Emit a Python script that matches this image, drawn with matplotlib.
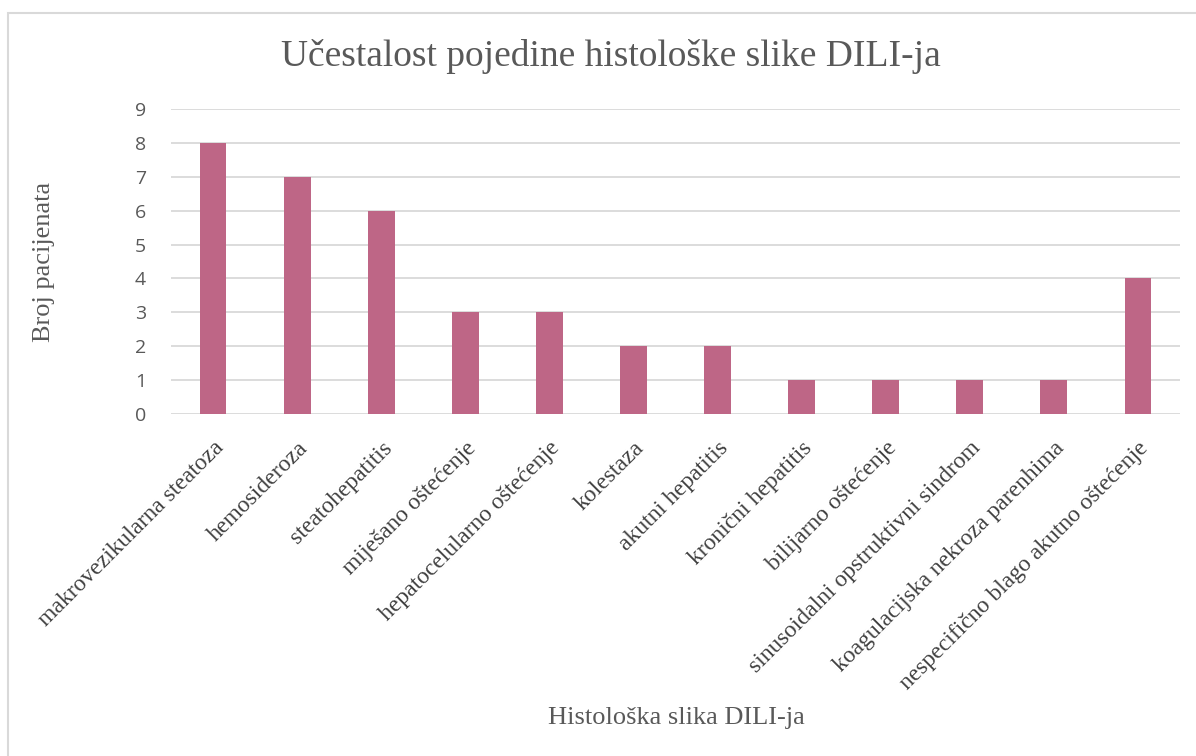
import matplotlib
matplotlib.use("Agg")
from matplotlib import pyplot as plt
from matplotlib.patches import Rectangle
import numpy as np

# data
categories = ["makrovezikularna steatoza", "hemosideroza", "steatohepatitis",
              "miješano oštećenje", "hepatocelularno oštećenje", "kolestaza",
              "akutni hepatitis", "kronični hepatitis", "bilijarno oštećenje",
              "sinusoidalni opstruktivni sindrom", "koagulacijska nekroza parenhima",
              "nespecifično blago akutno oštećenje"]
counts = [8, 7, 6, 3, 3, 2, 2, 1, 1, 1, 1, 4]
y_ticks = list(range(0, 10))

title_txt = "Učestalost pojedine histološke slike DILI-ja"
x_label = "Histološka slika DILI-ja"
y_label = "Broj pacijenata"

bar_color = "#BE6686"
grid_color = "#D9D9D9"
serif = "Liberation Serif"

fig = plt.figure(figsize=(11.96, 7.56), dpi=100)
W, H = 1196, 756

# outer chart frame (Excel style)
fig.patches.append(Rectangle((8 / W, -0.01), 1.1, 1 - 13 / H + 0.01, transform=fig.transFigure,
                             fill=False, edgecolor=grid_color, linewidth=1.5))

ax = fig.add_axes([171 / W, 1 - 414 / H, (1180 - 171) / W, (414 - 109) / H])
x = np.arange(len(categories))
ax.bar(x, counts, width=0.32, color=bar_color, zorder=3)

ax.set_xlim(-0.5, len(categories) - 0.5)
ax.set_ylim(0, 9)
ax.set_yticks(y_ticks)
ax.set_yticklabels([str(v) for v in y_ticks], fontfamily="Open Sans", fontsize=14, color="#595959")
ax.set_xticks(x)
ax.set_xticklabels(categories, rotation=45, ha="right", rotation_mode="anchor",
                   fontfamily=serif, fontsize=17, color="#404040")
ax.tick_params(axis="both", length=0)
ax.tick_params(axis="y", pad=18)
ax.tick_params(axis="x", pad=17)

for v in y_ticks:
    ax.axhline(v, color=grid_color, linewidth=1.3, zorder=1)
for s in ax.spines.values():
    s.set_visible(False)

fig.text(611 / W, 1 - 56 / H, title_txt, ha="center", va="center",
         fontfamily=serif, fontsize=27, color="#595959")
fig.text(676 / W, 1 - 718 / H, x_label, ha="center", va="center",
         fontfamily=serif, fontsize=19, color="#595959")
fig.text(44 / W, 1 - 262 / H, y_label, ha="center", va="center", rotation=90,
         fontfamily=serif, fontsize=19, color="#595959")

fig.savefig("out.png", dpi=100)
